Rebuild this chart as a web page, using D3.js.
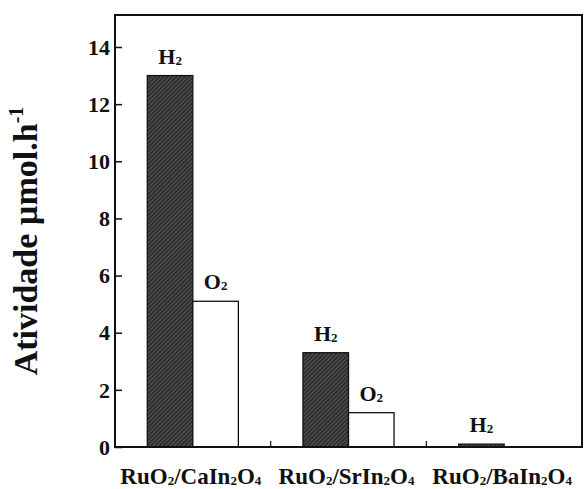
<!DOCTYPE html>
<html>
<head>
<meta charset="utf-8">
<script src="https://cdn.jsdelivr.net/npm/d3@7"></script>
<style>
  body { margin: 0; background: #fff; }
</style>
</head>
<body>
<div id="chart"></div>
<script>
// ---- Data
const catalysts = ['Ca', 'Sr', 'Ba'];
const gases = ['H2', 'O2'];
const h2Values = [13.0, 3.3, 0.1];
const o2Values = [5.1, 1.2, 0];
const yTicks = [0, 2, 4, 6, 8, 10, 12, 14];

const W = 584, H = 489;
const margin = { left: 115, right: 2, top: 15, bottom: 42 };
const FONT = 'Liberation Serif';

const svg = d3.select('#chart').append('svg')
    .attr('width', W).attr('height', H);

// ---- Hatch pattern for the H2 bars
const defs = svg.append('defs');
const pat = defs.append('pattern')
    .attr('id', 'hatch').attr('patternUnits', 'userSpaceOnUse')
    .attr('width', 3).attr('height', 3)
    .attr('patternTransform', 'rotate(45)');
pat.append('rect').attr('width', 3).attr('height', 3).attr('fill', '#2e2e2e');
pat.append('line').attr('x1', 0).attr('y1', 0).attr('x2', 0).attr('y2', 3)
    .attr('stroke', '#8a8a8a').attr('stroke-width', 0.9);

// ---- Scales
const x0 = d3.scaleBand().domain(catalysts)
    .range([margin.left, W - margin.right])
    .paddingInner(0.415).paddingOuter(0.2075);
const x1 = d3.scaleBand().domain(gases).range([0, x0.bandwidth()]).padding(0);
const y = d3.scaleLinear().domain([0, 15.12]).range([H - margin.bottom, margin.top]);

const rows = [];
catalysts.forEach((c, i) => {
    rows.push({ cat: c, gas: 'H2', value: h2Values[i] });
    rows.push({ cat: c, gas: 'O2', value: o2Values[i] });
});

// ---- Bars
svg.append('g').selectAll('rect')
    .data(rows.filter(d => d.value > 0))
    .join('rect')
    .attr('x', d => x0(d.cat) + x1(d.gas))
    .attr('y', d => y(d.value))
    .attr('width', x1.bandwidth())
    .attr('height', d => y(0) - y(d.value))
    .attr('fill', d => d.gas === 'H2' ? 'url(#hatch)' : '#fff')
    .attr('stroke', '#111')
    .attr('stroke-width', 1.3);

// ---- Bar labels (H2 / O2 with subscript)
const lbl = svg.append('g').selectAll('text')
    .data(rows.filter(d => d.value > 0))
    .join('text')
    .attr('x', d => x0(d.cat) + x1(d.gas) + x1.bandwidth() / 2)
    .attr('y', d => y(d.value) - 12)
    .attr('text-anchor', 'middle')
    .attr('font-family', FONT).attr('font-weight', 'bold')
    .attr('font-size', 22)
    .attr('fill', '#111');
lbl.append('tspan').text(d => d.gas[0]);
lbl.append('tspan').text('2').attr('font-size', 13).attr('dy', 1);

// ---- Frame
svg.append('rect')
    .attr('x', margin.left).attr('y', margin.top)
    .attr('width', W - margin.right - margin.left)
    .attr('height', H - margin.bottom - margin.top)
    .attr('fill', 'none').attr('stroke', '#111').attr('stroke-width', 2);

// ---- Y axis (ticks inward)
const yAxis = svg.append('g')
    .attr('transform', `translate(${margin.left},0)`)
    .call(d3.axisRight(y).tickValues(yTicks).tickSize(7).tickFormat(''));
yAxis.select('.domain').remove();
yAxis.selectAll('.tick line').attr('stroke', '#111').attr('stroke-width', 1.5);

svg.append('g').selectAll('text')
    .data(yTicks).join('text')
    .attr('x', margin.left - 5)
    .attr('y', d => y(d))
    .attr('dy', '0.35em')
    .attr('text-anchor', 'end')
    .attr('font-family', FONT).attr('font-weight', 'bold')
    .attr('font-size', 22)
    .attr('fill', '#111')
    .text(d => d);

// ---- Small separator ticks on x axis between groups
const seps = catalysts.slice(1).map((c, i) =>
    (x0(catalysts[i]) + x0.bandwidth() / 2 + x0(c) + x0.bandwidth() / 2) / 2);
svg.append('g').selectAll('line')
    .data(seps).join('line')
    .attr('x1', d => d).attr('x2', d => d)
    .attr('y1', y(0)).attr('y2', y(0) - 6)
    .attr('stroke', '#111').attr('stroke-width', 1.2);

// ---- X category labels  RuO2/XIn2O4
const xl = svg.append('g').selectAll('text')
    .data(catalysts).join('text')
    .attr('x', d => x0(d) + x0.bandwidth() / 2 - 2)
    .attr('y', H - 5)
    .attr('text-anchor', 'middle')
    .attr('font-family', FONT).attr('font-weight', 'bold')
    .attr('font-size', 23)
    .attr('fill', '#111');
xl.append('tspan').text('RuO');
xl.append('tspan').text('2').attr('font-size', 13).attr('dy', 1);
xl.append('tspan').text(d => '/' + d + 'In').attr('dy', -1);
xl.append('tspan').text('2').attr('font-size', 13).attr('dy', 1);
xl.append('tspan').text('O').attr('dy', -1);
xl.append('tspan').text('4').attr('font-size', 13).attr('dy', 1);

// ---- Y axis title
const yt = svg.append('text')
    .attr('transform', `translate(37,${(106 + 376) / 2}) rotate(-90)`)
    .attr('text-anchor', 'middle')
    .attr('font-family', FONT).attr('font-weight', 'bold')
    .attr('font-size', 34)
    .attr('fill', '#111');
yt.append('tspan').text('Atividade µmol.h');
yt.append('tspan').text('-1').attr('font-size', 20).attr('dy', -14);
</script>
</body>
</html>
